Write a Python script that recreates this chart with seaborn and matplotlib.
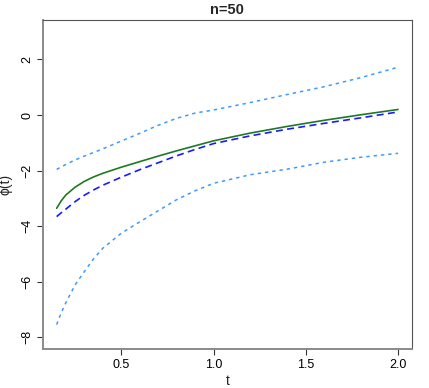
import matplotlib
matplotlib.use("Agg")
import matplotlib.pyplot as plt
import seaborn as sns
import pandas as pd

# ---- data ----
t = [0.15, 0.175, 0.2, 0.25, 0.3, 0.35, 0.4, 0.5, 0.6, 0.7, 0.8, 0.9, 1.0, 1.2, 1.4,
     1.6, 1.8, 2.0]
phi_true = [-3.36, -3.09, -2.88, -2.60, -2.39, -2.23, -2.10, -1.88, -1.68, -1.48, -1.29,
            -1.11, -0.93, -0.65, -0.41, -0.19, 0.01, 0.20]
phi_est = [-3.66, -3.52, -3.39, -3.12, -2.89, -2.70, -2.53, -2.24, -1.97, -1.72, -1.47,
           -1.24, -1.03, -0.75, -0.51, -0.30, -0.10, 0.11]
upper = [-1.96, -1.87, -1.78, -1.62, -1.48, -1.35, -1.22, -0.94, -0.66, -0.37, -0.12,
         0.07, 0.18, 0.45, 0.74, 1.02, 1.35, 1.72]
lower = [-7.55, -7.12, -6.76, -6.12, -5.64, -5.18, -4.80, -4.26, -3.85, -3.45, -3.05,
         -2.73, -2.46, -2.15, -1.95, -1.70, -1.52, -1.38]

x_ticks = [0.5, 1.0, 1.5, 2.0]
y_ticks = [-8, -6, -4, -2, 0, 2]
title = "n=50"

sns.set_style("white")
plt.rcParams["font.family"] = ["Liberation Sans", "DejaVu Sans"]

df = pd.DataFrame({"t": t, "true": phi_true, "est": phi_est, "up": upper, "lo": lower})

fig = plt.figure(figsize=(4.29, 3.88), dpi=100)
ax = fig.add_axes([0.1002, 0.0997, 0.8595, 0.85])

sns.lineplot(data=df, x="t", y="up", ax=ax, color="#3d9bff", lw=1.1)
sns.lineplot(data=df, x="t", y="lo", ax=ax, color="#3d9bff", lw=1.1)
sns.lineplot(data=df, x="t", y="true", ax=ax, color="#1f7a1f", lw=1.2)
sns.lineplot(data=df, x="t", y="est", ax=ax, color="#1a1aff", lw=1.2)

lines = ax.get_lines()
lines[0].set_dashes([2.2, 2.6])
lines[1].set_dashes([2.2, 2.6])
lines[3].set_dashes([4.2, 2.6])

ax.set_xlim(0.076, 2.074)
ax.set_ylim(-8.44, 3.44)
ax.set_xticks(x_ticks)
ax.set_xticklabels(["0.5", "1.0", "1.5", "2.0"])
ax.set_yticks(y_ticks)
ax.set_yticklabels(["\u22128", "\u22126", "\u22124", "\u22122", "0", "2"], rotation=90, va="center")

ax.tick_params(axis="both", direction="out", length=4, width=0.8, colors="#333333",
               labelsize=9, labelcolor="black", pad=3)
ax.tick_params(left=True, bottom=True)

for side in ["top", "right"]:
    ax.spines[side].set_color("#555555")
    ax.spines[side].set_linewidth(0.8)
for side in ["left", "bottom"]:
    ax.spines[side].set_color("#8a8a8a")
    ax.spines[side].set_linewidth(1.4)

ax.set_xlabel("t", fontsize=10, labelpad=2)
ax.set_ylabel("\u03d5(t)", fontsize=10, labelpad=6)
ax.set_title(title, fontsize=10.5, fontweight="bold", pad=4)

fig.savefig("out.png", dpi=100)
